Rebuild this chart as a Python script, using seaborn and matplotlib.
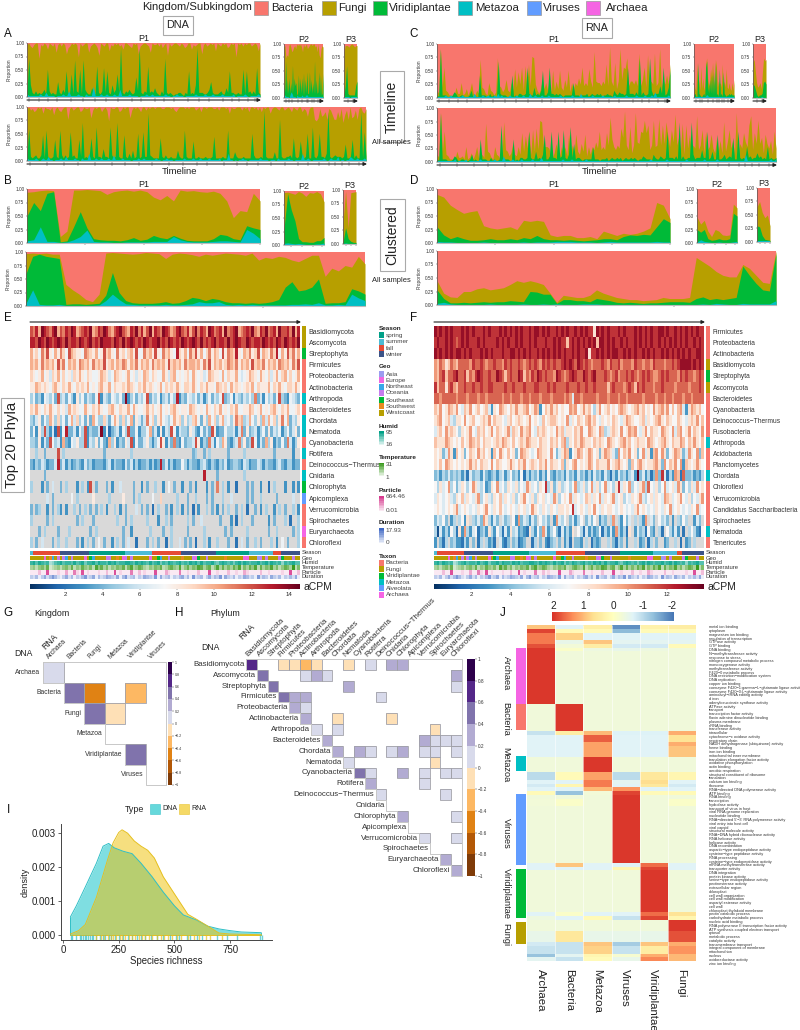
import numpy as np
import seaborn as sns
import matplotlib.pyplot as plt
from matplotlib.colors import ListedColormap, LinearSegmentedColormap
from matplotlib.patches import Rectangle, FancyArrowPatch

W, H = 800, 1030

# taxon colours and names
kingdoms = ['Bacteria', 'Fungi', 'Viridiplantae', 'Metazoa', 'Viruses', 'Archaea']
k_colors = ['#F8766D', '#B79F00', '#00BA38', '#00BFC4', '#619CFF', '#F564E3']

# timeline panels: one base 36 digit per sample, 0 is 0 and z is 1
# each is the upper edge of the metazoa, plant or fungi band
a1_meta = '2111111211311110111211411112110211171112112111211511112111101112112111111211011211101111121111211121111211111201111210111121'
a1_plant = '3p8324232352i42322a3253h32f2o43i2o5322632k324j3h32835f3w32435323d4w3243k343632142p3232122332132h2328w3332235a3222342263h3322322i2h34242j32'
a1_fungi = 'yzxwyzzpyxzyvzyxztyzxzyswxzyzyqzxyzztxyzywrzyxzzuyxzyzxyvzzyxwzyzsxyzzyxtzyyzxzwyzrzxyzzyxzywxzzvyxyzzsyzxyzyzuzyxzyzwxzyzqzyzxzyzzxyzyuz'
a2_meta = '1211102431110211112111221111111111111111'
a2_plant = 'a4o3c3d3a3l4d8a23f3d3d2g2c3h33h4c3a3o3c34h2f23g'
a2_fungi = 'xyqsryzxuvxywzyzyzxuzxyzwxyzzyzzxyuzsqwyx'
a3_meta = '111110111111'
a3_plant = '28l3222228b'
a3_fungi = 'uyyyxyzzyxyy'
aa_meta = '2111121012113110111211311112110211151112112111211411112111101112112111111211011211101111121111211121111211111201115110101121101111112111101110211111211011115112101111112101211130110113211211121'
aa_plant = '4l3234224h2k3223e32k42423j3422e3p2324f32m3328332m423p322h3252723i23j33v432222f3242232227322k3222d22322232223g2222322k2226322232222i422232x32222622r3223342f323d423i22m324i3325w323433323b223e2422w2j3'
aa_fungi = 'yzxywxzyzvzyyxzuyzxwyzzryzxyzzwxzyyzsxzyzzwyzxqzyyzzwxzyzzsxzyzywzzxzyzzyzzzyyzzzyzxwyzzzyzyzzzxyzwzzyzzzyyzxzzzyzvzyyzzzxzyzwzzyzxzwzyzzvyzzyxzzxyzywzyxzzwyxtyzzrqsytuwryxurrwsypuxrzstxryzwvy'
c1_meta = '1111121121111112111111311112112111213121111211121112111311211121112111111211111121111311111121111121111112111111211111211112111214111111121'
c1_plant = '21w2221112431122111251211f2221131211o3222111f12133223k32272325i224k3323232122222a2221222312322323122322153243323k333242q24223q5233383k237i'
c1_fungi = '53w7k542212733a23625a3253p7632a5424q8746c54a5j7h9k5l7m8rq9536c6a5a4i5b6i75c7i4a5a8d9k8a8jb7ubaa8b9m8xb8n6bwckjq8bb9c8t8ck7s9b9t8aw7c9f9m'
c2_meta = '1111111111112211111111111111111111111111'
c2_plant = '2311n3211231ko83c3f2h2n231j231h32122323222'
c2_fungi = 'a65n6c5k6d58mqd8ajdnc8pk7b9a7m8b7j76a65a5c'
c3_meta = '000100011000'
c3_plant = '98521223ab9'
c3_fungi = 'npha78a6hqop'
ca_meta = '1111111111201111201111112111111121111411112111121111121111311111111111211112111111121111111111111111111111111111111111121111111121111111111211111111121111112111111111111111511111111111112112'
ca_plant = '21w2221112431122111251211f22211312112o322211f12133223k32272325i224k332k34l325n3c2332122222a222122231232232312322323212243222153224323k333242q242233q52333833k23722i22352343g22k3232a34233634232a23223'
ca_fungi = '53w7k54221273342a23625a3253p7632a5424q8746c54a5j7h9k5l7m8rqaaa9536c64a5a4i5b6i75c7i4a5a8d9k8a8jbtfa8b9mgxb8n6bwdckjrjo8brabsbocqhaldvbg7p5o9i6b9u8bl6k8ai96f7e6q7dl9e5w6c9jdaou8jcrcg6ic9e5k9'

# clustered panels, in percent
b1_meta = [4,6,30,3,3,1,2,6,12,24, 3,2,2,1,1,2,2,2,2,3, 3,3,12,6,3,2,2,2,3,4, 4,3,2,25,18,8]
b1_plant = [50,75,60,92,95,2,4,30,58,28, 8,6,5,5,4,6,10,5,7,14, 10,8,14,9,5,4,4,4,8,16, 14,8,6,32,28,25]
b1_fungi = [94,95,97,98,97,12,22,98,98,99, 98,97,90,95,97,98,96,98,95,85, 80,88,78,98,96,97,95,94,96,92, 78,47,60,58,92,78]
b2_meta = [3,4,3,2,3,2,1,1,1,2,2,4]
b2_plant = [30,95,65,45,12,6,6,5,5,8,8,14]
b2_fungi = [97,98,96,94,99,96,90,97,96,99,95,80]
b3_meta = [1,2,1,1,1,1]
b3_plant = [3,30,10,5,3,3]
b3_fungi = [40,98,30,95,96,97]
ba_meta = [5,30,3,2,2,3,1,1,1,1, 1,2,10,22,12,4,3,2,2,2, 2,3,2,2,3,4,8,6,6,8, 3,2,3,2,3,2,2,2,2,2, 3,3,4,3,6,2,2,3,2,22, 15,10]
ba_plant = [60,92,96,92,90,88,3,4,4,3, 4,5,20,62,25,10,6,5,5,5, 6,8,5,6,10,16,14,10,14,12, 8,6,6,5,6,5,6,8,12,35, 45,28,30,35,50,5,6,6,8,32, 28,22]
ba_fungi = [97,98,97,98,96,96,40,30,22,12, 8,22,98,99,98,97,96,97,99,98, 97,88,96,98,97,95,92,96,94,96, 98,97,96,94,98,85,90,88,92,90, 85,82,88,94,94,55,70,65,75,72, 92,78]
d1_meta = [3,2,2,1,1,1,1,2,1,1, 1,1,1,2,1,2,2,2,3,3, 3,2,2,2,1,2,3,2,2,2, 2,2,2,3,2,2]
d1_plant = [30,15,8,12,8,5,5,6,8,6, 6,8,6,10,8,14,8,6,6,5, 6,5,4,5,6,8,8,6,12,15, 14,16,15,30,45,38]
d1_fungi = [90,85,70,62,55,58,60,32,28,26, 28,30,25,42,40,42,40,15,12,14, 14,10,10,12,8,22,18,14,18,16, 18,22,28,75,70,45]
d2_meta = [2,6,3,2,1,1,2,1,1,1,2,3]
d2_plant = [25,20,25,8,5,6,8,6,6,8,55,50]
d2_fungi = [48,35,42,22,12,25,22,15,14,15,72,65]
d3_meta = [1,1,1,1,1,1]
d3_plant = [30,28,12,5,4,3]
d3_fungi = [65,75,55,45,50,30]
da_meta = [3,5,2,1,1,1,1,1,2,1, 1,1,1,2,1,1,2,1,2,1, 1,1,2,2,2,1,1,1,1,1, 1,1,1,1,1,1,1,1,1,1, 2,1,3,2,1,1,3,2,2,2, 2,8]
da_plant = [28,12,4,4,5,4,5,6,5,6, 6,8,7,6,25,24,20,20,3,10, 10,8,8,6,12,10,8,5,4,5, 4,3,4,4,5,6,6,6,5,12, 15,10,12,10,12,14,72,55,40,28, 26,95]
da_fungi = [45,22,15,14,25,25,30,32,28,30, 32,38,45,42,45,42,38,22,5,18, 16,14,14,18,28,22,18,14,12,10, 10,8,9,10,14,12,12,12,14,88, 80,72,62,55,52,52,75,68,55,42, 40,100]

# tick positions, as a share of the panel width
p1_ticks = [.01,.05,.09,.13,.19,.24,.29,.34,.39,.45,.49,.55,.59,.63,.69,.74,.78,.84,.88,.91,.95,.98]
p2_ticks = [.05,.14,.2,.35,.47,.58,.62,.71,.76,.86,.92]
p3_ticks = [.3,.7]
all_ticks = [.01,.06,.11,.15,.2,.25,.29,.33,.37,.42,.46,.5,.53,.58,.62,.65,.68,.72,.76,.8,.83,.86,.89,.91,.93,.95,.98]
cl1_ticks = [.25,.5,.75,1]
cl2_ticks = [.18,.45,.72,.95]
cl3_ticks = [.2,.6,1]
cla_ticks = [.35,.7]

# heatmap E, one hex digit per sample is aCPM, a dot is not detected
e_phyla = ['Basidiomycota', 'Ascomycota', 'Streptophyta', 'Firmicutes', 'Proteobacteria',
           'Actinobacteria', 'Arthropoda', 'Bacteroidetes', 'Chordata', 'Nematoda',
           'Cyanobacteria', 'Rotifera', 'Deinococcus\u2212Thermus', 'Cnidaria', 'Chlorophyta',
           'Apicomplexa', 'Verrucomicrobia', 'Spirochaetes', 'Euryarchaeota', 'Chloroflexi']
e_taxa = [1,1,2,0,0,0,3,0,3,3,0,3,0,3,2,4,0,0,5,0]
e_rows = [
    'cbdaedcbdeacbdcedabcdceabdcedbacdecbadcebdaceadcbedcabdecbdacebdcaedbcdaebcdeabcdcebadcebcdaeccdbeadcbd',
    'ddcedcedcdedcecddcedcdecdcedddcedcecdedcdcedcddecdcedcdcedcdedcecdcdecddcecdedccedcddcedcdcedcedcdceddc',
    'a897b9c87a8b97ca9887ba98a78c9a87b8979a8c77b9a8c87b9a87d98a7b9c8a79b8a97c8ba9d87a9b89c7a98b9d7a8c9b8a79ca8',
    'a9a8b9a9a8c9b7a9a8ba9a8b9a9c89a8a9ba8a9b8a9a8b9a9a8c9a9a8b9aa9a8b9c8a9a89ba9b8a9a8c9a9b8a9a8ba9a8b9ca9a8b',
    '9878a78698a7978698a8798778a9867a9878a78687a979877a869a787897a87867a9887a7988a7678a987a87968a79a7978a8679a8',
    '88a989879a8798a879898a7879a88a798898a98798a89878a79898a87998a8798a887a9897a8987898a79888a798a87998a8798a8',
    '5745376574c56475385746547c365476574e3574657c4657356475d3547657463574657c45736546575b46375647c5437654c6537',
    '98a8798a879786a89877a8798a8779a87988a7a8778a8978a7879a87887a98787a8798a78798a7788a978a7879a8798a77898a798',
    '5468475a8595747a6957484a7559647a85957a48646b7958a7657a8958569a7485a7958a6758b9a56a7585a6a7958b7a4658a7695',
    '47385c5362c37d446375c35446e372456375c4473557a4638365c73655486437464c8344755636b4845635748465735746843c5647',
    '5548364c7563a4376855c36584743a5835486c3744685357c8364b4374556c8354b6375a84356b5845c7364a5835474b6358547c6',
    '..5..4....c.5..............4.........5......................45..4.5......4.....5..........4......3.......4',
    '4354653446d4635345436453444356354436463534453534d46353447535443564354354634554365344653544356435534465544',
    '.....4..........................................................d....4.........5.....................4...',
    '5...3.4.6..4.5...3.5.3c.4...4.3..6....4..3.4..5..3.7.4..3..4.3...3.4.b.5.3..2...4.4..3..2.5...3..3.3.4..4.',
    '......6.4......7.5.....8.....5....8...4.5....7..9.....5...4..5...4.4...5..6.....4.4..5.....4.....6.....5.',
    '4.45..3.4.53.3..5.4.5.4.4.5.3..5.3.4...6.4.4.2.5..4.3.5.3.4.2.3..5.4.3.4.5..4.5.2..4.3.5..3.5.4..5.3.2..4',
    '5.....4.5........4.5...4........5..4.5.....5...3..5.4.....5.4..6......4...3.2.5...4.....3.4...5.2..5.....4',
    '...4.5....4...5.......4.5.........4..3......5....4..5.....4.....5.......4.4.....5.......4..5.....4.5.....3',
    '5.4.6...4.5..5...4.3.5.4.7.4..3.5.4.6..2...4.5.4..2.5..6.4.4.2..5.3..5...4..2.6.4..5.4...5.3.7.4...5.2...5',
]

# heatmap F
f_phyla = ['Firmicutes', 'Proteobacteria', 'Actinobacteria', 'Basidiomycota', 'Streptophyta',
           'Ascomycota', 'Bacteroidetes', 'Cyanobacteria', 'Deinococcus\u2212Thermus', 'Fusobacteria',
           'Arthropoda', 'Acidobacteria', 'Planctomycetes', 'Chordata', 'Chloroflexi',
           'Verrucomicrobia', 'Candidatus Saccharibacteria', 'Spirochaetes', 'Nematoda', 'Tenericutes']
f_taxa = [0,0,0,1,2,1,0,0,0,0,3,0,0,3,0,0,0,0,3,0]
f_rows = [
    'dcdcdcdcccdcdcdcccdcdcccdcdcdcdcdccdcddcdcdccdcdcdccdcdcdcc8dcdcdcccdcdcccdcdcdcdccddcdccdcdcdcdcdcccd',
    'cdccdcdcbcdcdcccdcdccccdcdcdccdcdccdcdcccdccdcdcc9cdcdcdcdcd9ddcdcdccdcdccdcdcdcdccdcdcdcdcdcdccdcdcccd',
    'dcdcdcdcddcdcdcccdcdcdcccdccddcdcdcdccdcdcdcdcdcdccdcdccd8ccdcdcdcddccdcdcdccdcdcdccdcdcdcdcdcdccddcdcd',
    'a9ba89ba9bbbbacbbcbabbcbbacbcbbcbabcbcbacbcbcbbcdcdcbdcbcbabbbcbacbbcabbbacbbabbacbbbabbcbcddddcdcdcbab',
    'a9bc9bbcdbbc9bacdcbbcbbdcb9bcbbdc9bacbdcbcbbadcbabcdcbbdcbcdbbbcbabcabbcbcbabcbcbaabcbcbbbacbcbbabcbcbb',
    'c9bb8bca9bbcbbcbbcbbccbbbbcbbcbbbcbbbccbbbcbcbbbbcbbbcbbcbbcbbbb9bcbbbabcb9cbcbbbabbcbbbbabbbbabbbcbbab',
    'bbabbbbbabbbabbbabbabbbbbabbabbbabbabbbabbbabbbbaba6bbabbbbbabbbabbbabbabbbbbabbbbabbabbabbbabbabbbbabb',
    '98a78a98a7698a7897896387a98798a889a78a93798a897877a9a78a89758a7897879a98789a89787a89a8a7979a638a9897a8a',
    '89a78965887a78977898a79887689789878a7876978998787a6879879a8976878798768a98778968789a8798779876898a79789',
    '6897a89875878a7698978a79878a6987a89a769898787a89688798a77a987a9568987a78a9a768a79887a987a69a78a7987a988',
    '9888a98787978a98979887898a98797898a9887988798979a58798a988798987a98789a89789887a98789a87988a9798a87978',
    '87846a8397847987a8978397a8797847a98767a9887a7468a9378a978a97848a9864a798a7847a6839a7a8478a9846a87a4987',
    '8797a98787878a8979887a798778a8798a7898798a7988794879a7878a979888a789a8784979a87889a84a798a7a39878a8787',
    '453546454535264553643453563574537253546353743545364536453536453642536453563e463524a4c6253a92b44534355',
    '75867a57468757a86573487a6758768576a867587c5846856757a56857a6857a6758c687a5768a5b76857a6786a847586a7857',
    '6876786587968768a5786587968768578a7685878676a85787a6876798687a6878a678576878a65786876a98678a7685768a66',
    '78767878a6787676878a7687976787687867a87687687688787c6787687a768788767876768a78767687687a678767687a678',
    '46574.35.5738.5464a85364.645.73a465364.7564.3a657.46357.4647.354.5a.53746.5.53a.64.7564.3.5475..364.6475',
    '51635375283a5367245385375263856343285374a63574263538.75263534725363a53528.36452743.52.75363.2.5753274',
    '3.425.4533253.4.25.5342.6324.45234..25.4.3245.4.352.443.5.2434..5.4254.3..5.34.25.4..34..5.2.34.5...52',
]

# annotation strips, shared by E and F
season_names = ['spring', 'summer', 'fall', 'winter']
season_colors = ['#00A087', '#4DBBD5', '#E64B35', '#3C5488']
season_runs = [1, 2, 3, 0, 1, 2, 3, 0, 1, 2, 3]
season_e_len = [1, 10, 11, 13, 10, 11, 13, 12, 9, 3, 7]
season_f_len = [1, 10, 11, 13, 10, 11, 13, 12, 9, 2, 8]
geo_names = ['Asia', 'Europe', 'Northeast', 'Oceania', 'Southeast', 'Southwest', 'Westcoast']
geo_colors = ['#9C9CF0', '#F067E0', '#38A8E8', '#C77CEE', '#00BA38', '#E88A20', '#B79F00']
geo_row = '6666616526363263666616426666336656136366666616642663666656663146636666665666666116660363666634666366666'
humid_row = '7868767346786776867857786877687867788768787686785768767867687868677865787675786876778678687674767866786'
temp_row = '4535647234535647354754638574635465736845764354657346754835746587467358474647583647583746584635764936584'
part_row = '1113118111211411621812111211311812111611312111811142111611211131118112111311211421111311211112118113111'
dura_row = '3241352464213524132462351423543251462341325432615234132452416234135243615324132542316243153241324251342'
strip_cmaps = ['#00A087', '#3A9A1E', '#D63A8E', '#3D66C4']
strip_names = ['Season', 'Geo', 'Humid', 'Temperature', 'Particle', 'Duration']
taxon_names = ['Bacteria', 'Fungi', 'Viridiplantae', 'Metazoa', 'Alveolata', 'Archaea']

# correlation G
g_names = ['Archaea', 'Bacteria', 'Fungi', 'Metazoa', 'Viridiplantae', 'Viruses']
g_r = [0, 1, 1, 1, 2, 2, 4]
g_c = [0, 1, 2, 4, 2, 3, 4]
g_v = [0.1, 0.5, -0.5, -0.3, 0.5, -0.1, 0.5]

# correlation H
h_names = e_phyla
h_r = [0,0,0,0,0,0,0,0,0, 1,1,1,1,1, 2,2,2, 3,3,3,3, 4,4, 5,5,5, 6,6,6, 7,7,7,7,7,
       8,8,8,8,8,8,8,8, 9,9, 10,10,10,10,10,10, 11,11, 12,12, 14,14, 16,16, 18, 19]
h_c = [0,3,4,5,6,9,11,13,14, 1,5,6,7,19, 2,9,19, 3,4,5,12, 4,5, 5,8,13, 6,8,17, 7,16,17,18,19,
       8,10,11,13,14,16,17,19, 9,17, 10,11,14,16,18,19, 11,16, 12,18, 14,19, 16,19, 18, 19]
h_v = [.7,-.1,-.1,-.3,-.1,-.1,.1,.3,.3, .5,.1,.3,.1,.3, .5,.3,.1, .5,.3,.3,.1, .3,.1, .3,-.1,-.1, .1,.1,-.1, .3,.3,.1,.1,.1,
       .3,.3,.1,.1,.3,.1,.1,.1, .1,-.1, .5,.1,.3,.1,.1,.1, .3,.1, .1,.1, .3,.1, .1,.1, .3, .3]
corr_colors = ['#7F3B08', '#B35806', '#E08214', '#FDB863', '#FEE0B6',
               '#D8DAEB', '#B2ABD2', '#8073AC', '#542788', '#2D004B']
corr_ticks = [-1, -.8, -.6, -.4, -.2, 0, .2, .4, .6, .8, 1]
corr_labels = ['\u22121', '\u22120.8', '\u22120.6', '\u22120.4', '\u22120.2', '0', '0.2', '0.4', '0.6', '0.8', '1']

# density I
dna_x = [33,60,100,125,150,180,205,230,270,310,350,400,450,500,540,600,650,700,750,800,890]
dna_y = [.00052,.00085,.0014,.00175,.0021,.0026,.00268,.00255,.00245,.00238,.0021,.0017,.00125,.00085,.00058,.00043,.00025,.00017,.00012,.00008,.00006]
rna_x = [33,70,100,150,200,225,250,265,290,320,350,380,410,450,500,530,560,600,650,700,750,890]
rna_y = [.00002,.00012,.0003,.0011,.0022,.0027,.003,.00308,.00298,.00275,.0026,.00248,.00225,.0017,.0012,.0009,.0006,.00045,.00025,.00005,.00002,0]
dna_rug = [35,42,60,75,82,90,97,105,112,120,128,135,150,165,180,190,205,215,235,250,270,290,310,330,350,370,395,420,450,480,505,520,555,570,600,625,690,735,780,885,895]
rna_rug = [150,170,185,200,215,225,240,255,265,280,295,310,325,340,355,370,385,400,420,440,455,470,490,510,530,560,590,610,640,660,715]

# function heatmap J, columns in j_cols order
j_cols = ['Archaea', 'Bacteria', 'Metazoa', 'Viruses', 'Viridiplantae', 'Fungi']
j_terms = ['metal ion binding', 'cytoplasm', 'magnesium ion binding', 'regulation of transcription',
           'GTPase activity', 'GTP binding', 'DNA binding', 'N\u2212methyltransferase activity',
           'response to stress', 'nitrogen compound metabolic process', 'monooxygenase activity',
           'methyltransferase activity', 'F420\u22120 metabolic process',
           'DNA restriction\u2212modification system', 'DNA replication', 'copper ion binding',
           'coenzyme F420\u22121:gamma\u2212L\u2212glutamate ligase activity',
           'coenzyme F420\u22120:L\u2212glutamate ligase activity', 'aminoacyl\u2212tRNA editing activity',
           'd iron', 'adenylosuccinate synthase activity', 'ATPase activity', 'transport',
           'transcription factor activity', 'flavin adenine dinucleotide binding', 'plasma membrane',
           'rRNA binding', 'transferase activity', 'intracellular', 'cytochrome\u2212c oxidase activity',
           'respiratory chain', 'NADH dehydrogenase (ubiquinone) activity', 'heme binding',
           'iron ion binding', 'mitochondrial inner membrane', 'translation elongation factor activity',
           'oxidative phosphorylation', 'actin binding', 'aerobic respiration',
           'structural constituent of ribosome', 'translation', 'calcium ion binding', 'ribosome',
           'RNA\u2212directed DNA polymerase activity', 'ATP binding', 'RNA binding', 'transcription',
           'hydrolase activity', 'transport of virus in host', 'viral RNA genome replication',
           'nucleotide binding', "RNA\u2212directed 5'\u22123' RNA polymerase activity",
           'viral entry into host cell', 'viral capsid', 'structural molecule activity',
           'RNA\u2212DNA hybrid ribonuclease activity', 'RNA helicase activity', 'helicase activity',
           'DNA recombination', 'aspartic\u2212type endopeptidase activity',
           'cysteine\u2212type peptidase activity', 'RNA processing',
           'cysteine\u2212type endopeptidase activity', 'mRNA methyltransferase activity',
           'transporter activity', 'DNA integration', 'protein kinase activity',
           'serine\u2212type endopeptidase activity', 'pectinesterase activity', 'extracellular region',
           'chloroplast', 'cell wall organization', 'cell wall modification', 'aspartyl esterase activity',
           'cell wall', 'chloroplast thylakoid membrane', 'pectin catabolic process',
           'carbohydrate metabolic process', 'nucleic acid binding',
           'RNA polymerase II transcription factor activity', 'ATP synthesis coupled electron transport',
           'cytosol', 'metabolic process', 'catalytic activity', 'transmembrane transport',
           'integral component of membrane', 'mitochondrion', 'nucleus', 'oxidoreductase activity',
           'zinc ion binding']
p, q = -.33, -.67
j_arc = [2, p, p, p, p, p]
j_bac = [p, 2, p, p, p, p]
j_met = [p, p, 2, p, p, p]
j_vir = [p, p, p, 2, p, p]
j_pla = [p, p, p, p, 2, p]
j_fun = [p, p, p, p, p, 2]
j_values = [
    [.9, q, .35, -1.8, .3, .4], [1.9, .1, .1, -1.4, .1, .1], [1.5, .8, q, q, q, q], [1.5, .8, q, q, q, q],
    [1.5, -.5, .9, -.6, -.6, -.6], [1.8, -.3, .4, -.8, -.8, .1], [2, -.1, -.4, -.5, -.4, p],
    j_arc, j_arc, j_arc, j_arc, j_arc, j_arc, j_arc, j_arc, j_arc, j_arc, j_arc, j_arc, j_arc, j_arc,
    j_bac, j_bac, j_bac, j_bac, j_bac, j_bac, j_bac,
    [-.9, .4, 1.0, -.7, -.7, 1.1], [q, q, 1.7, q, q, .6], [q, q, 1.7, q, q, .6], [q, q, 1.2, q, q, 1.1],
    [q, q, 1.2, q, q, .9], [q, q, 1.2, q, q, .9], [q, q, 1.2, q, q, .9],
    j_met, j_met, j_met, j_met,
    [-1, .1, 1.2, -1, .5, .2], [-1, .1, 1.2, -1, .5, .2], [q, q, 1.5, -.6, .7, q], [-.8, .2, 1.5, q, .5, -.8],
    [q, q, 1.0, 1.3, q, q], [.1, -1.3, -.3, 1.9, .1, .1],
    j_vir, [-.3, -.1, p, 2, p, -.1], [-.3, -.1, p, 2, p, -.1], j_vir, j_vir, j_vir, j_vir, j_vir, j_vir, j_vir,
    j_vir, j_vir, j_vir, j_vir, j_vir, j_vir, j_vir, j_vir,
    [q, .9, q, q, 1.6, q], [q, q, q, .2, 1.9, q],
    j_pla, j_pla, j_pla, j_pla, j_pla, j_pla, j_pla, j_pla, j_pla, j_pla, j_pla,
    [q, -.1, q, q, 1.6, .6], [-.4, q, .1, -.9, 1.9, .2],
    j_fun, j_fun, j_fun,
    [-.5, .5, -.5, -.5, -.5, 1.8], [-.5, .5, -.5, -.5, -.5, 1.8], [-.5, .5, -.5, -.5, -.5, 1.8],
    [-.8, -.9, .9, -1.2, .9, 1.1], [-.9, -.9, .8, -.9, .4, 1.3], [-.9, -.9, .8, -.9, .4, 1.3],
    [-1.3, -.6, .2, -.2, 1.1, 1.0], [-.6, -.9, .1, -.5, 1.4, 1.0],
]
j_side_taxa = [5, 0, 3, 4, 2, 1]
j_side_first = [6, 21, 35, 45, 65, 79]
j_side_count = [15, 7, 4, 19, 13, 6]
j_side_labels = ['Archaea', 'Bacteria', 'Metazoa', 'Viruses', 'Viridiplantae', 'Fungi']


def box(l, t, r, b):
    return fig.add_axes([l / W, 1 - b / H, (r - l) / W, (b - t) / H])


def put(x, y, s, **kw):
    kw.setdefault('va', 'center')
    fig.text(x / W, 1 - y / H, s, **kw)


def rect(l, t, r, b, **kw):
    fig.add_artist(Rectangle((l / W, 1 - b / H), (r - l) / W, (b - t) / H,
                             transform=fig.transFigure, **kw))


def arrow(x0, x1, y):
    fig.add_artist(FancyArrowPatch((x0 / W, 1 - y / H), (x1 / W, 1 - y / H),
                                   transform=fig.transFigure, arrowstyle='-|>',
                                   mutation_scale=5, lw=0.8, color='#222222',
                                   shrinkA=0, shrinkB=0))


def share(series):
    ''' Series come as a base 36 string or as a percent list '''
    if isinstance(series, str):
        return np.array([int(c, 36) / 35 for c in series])
    return np.array(series) / 100


def area(px, meta, plant, fungi, ticks, title=None, timeline=True, ylabel=True):
    ''' One stacked proportion panel, bands painted from the top one down '''
    ax = box(*px)
    ax.fill_between([0, 1], 0, 1, color=k_colors[0], lw=0)
    for series, col in zip((fungi, plant, meta), (k_colors[1], k_colors[2], k_colors[3])):
        y = share(series)
        ax.fill_between(np.linspace(0, 1, len(y)), 0, y, color=col, lw=0)
    ax.set_xlim(0, 1)
    ax.set_ylim(0, 1)
    ax.set_yticks([0, .25, .5, .75, 1])
    ax.set_yticklabels(['0.00', '0.25', '0.50', '0.75', '1.00'])
    ax.tick_params(axis='y', labelsize=3.4, length=1, width=.3, pad=1, colors='#333333')
    ax.set_xticks(ticks)
    ax.set_xticklabels([])
    ax.tick_params(axis='x', length=3.6 if timeline else 1.5, width=.3, color='#333333')
    if ylabel:
        ax.set_ylabel('Proportion', fontsize=3.4, labelpad=2.2, color='#333333')
    sns.despine(ax=ax)
    ax.spines['left'].set_linewidth(.5)
    ax.spines['left'].set_color('#555555')
    ax.spines['bottom'].set_linewidth(.8)
    ax.spines['bottom'].set_color('#bbbbbb')
    if title:
        ax.set_title(title, fontsize=6.5, pad=1.5, color='#222222')
    if timeline:
        arrow(px[0], px[2] + 1, px[3] + 3)
    return ax


def strip(px, data, cmap, vmin=None, vmax=None):
    ax = box(*px)
    sns.heatmap(data, ax=ax, cmap=cmap, vmin=vmin, vmax=vmax, cbar=False,
                xticklabels=False, yticklabels=False)
    return ax


def digits(row, n):
    return [int(c, 16) for c in row[:n].ljust(n, '0')]


def top20(x0, rows, phyla, taxa, vmax, season_len, cbar_ticks, label_fs):
    ''' Heatmap with its side bar, annotation strips and colour bar '''
    n = 100
    x1 = x0 + 270
    matrix = [[np.nan if c == '.' else int(c, 16) for c in r[:n].ljust(n, '.')] for r in rows]
    ax = box(x0, 326, x1, 548)
    cax = box(x0, 584, x1, 589)
    ax.set_facecolor('#D9D9D9')
    sns.heatmap(matrix, ax=ax, cmap='RdBu_r', vmin=.1, vmax=vmax, xticklabels=False,
                yticklabels=False, cbar_ax=cax, cbar_kws={'orientation': 'horizontal'})
    cax.set_xticks(cbar_ticks)
    cax.tick_params(axis='x', labelsize=4.4, length=1, width=.3, pad=1.5, color='#333333')
    put(x1 + 4, 586.5, 'aCPM', fontsize=7.5, color='#222222')
    side = box(x1 + 2, 326, x1 + 6, 548)
    sns.heatmap([[t] for t in taxa], ax=side, cmap=ListedColormap(k_colors), vmin=-.5, vmax=5.5,
                cbar=False, xticklabels=False, yticklabels=phyla)
    side.yaxis.tick_right()
    side.tick_params(axis='y', labelsize=label_fs, length=0, pad=2.0, labelrotation=0, colors='#333333')
    arrow(x0, x1 + 1, 322)
    season = np.repeat(season_runs, season_len)
    strip((x0, 551, x1, 555), [season], ListedColormap(season_colors), -.5, 3.5)
    strip((x0, 555.5, x1, 560), [digits(geo_row, n)], ListedColormap(geo_colors), -.5, 6.5)
    bands = [(560.5, 564.5, humid_row), (565, 569.5, temp_row), (570, 574.5, part_row), (575, 578.5, dura_row)]
    for (t, b, row), col in zip(bands, strip_cmaps):
        cm = LinearSegmentedColormap.from_list('s', ['#FFFFFF', col])
        strip((x0, t, x1, b), [digits(row, n)], cm, 0, 9)
    for name, y in zip(strip_names, [553, 558, 562.5, 567.5, 572.5, 577]):
        put(x1 + 2, y, name, fontsize=4.2, color='#333333')


def cat_legend(title, y_title, names, colors, ys):
    put(379, y_title, title, fontsize=4.6, fontweight='bold', color='#222222')
    for name, col, y in zip(names, colors, ys):
        rect(379, y - 3, 384, y + 3, fc=col, ec='none')
        put(385.5, y, name, fontsize=4.6, color='#444444')


def grad_legend(title, y_title, col, t, b, hi, lo, y_hi, y_lo):
    put(379, y_title, title, fontsize=4.6, fontweight='bold', color='#222222')
    cm = LinearSegmentedColormap.from_list('g', ['#FFFFFF', col])
    strip((379, t, 384, b), [[v] for v in [9, 8, 7, 6, 5, 4, 3, 2, 1, 0]], cm, 0, 9)
    put(385.5, y_hi, hi, fontsize=4.6, color='#444444')
    put(385.5, y_lo, lo, fontsize=4.6, color='#444444')


def corr(px, cbar_px, names, rows, cols, vals, fs, tick_fs):
    ''' Upper triangular correlation grid '''
    n = len(names)
    m = np.full((n, n), np.nan)
    m[rows, cols] = vals
    ax = box(*px)
    cax = box(*cbar_px)
    sns.heatmap(m, ax=ax, cmap=ListedColormap(corr_colors), vmin=-1, vmax=1,
                xticklabels=False, yticklabels=False, cbar_ax=cax)
    for r, c in zip(rows, cols):
        ax.add_patch(Rectangle((c, r), 1, 1, fc='none', ec='#A0A0A8', lw=.6))
    cax.set_yticks(corr_ticks)
    cax.set_yticklabels(corr_labels)
    cax.tick_params(labelsize=tick_fs, length=1.2, width=.3, pad=1, colors='#333333')
    steps = np.arange(n + 1)
    ax.plot(np.repeat(steps, 2)[:-1], np.repeat(steps, 2)[1:], color='#C8C8C8', lw=.7, clip_on=False)
    ax.plot([0, n, n], [0, 0, n], color='#C8C8C8', lw=.7, clip_on=False)
    for i, name in enumerate(names):
        ax.text(i - .12, i + .5, name, ha='right', va='center', fontsize=fs, color='#333333')
        ax.text(i + .35, -.08, name, rotation=45, rotation_mode='anchor', ha='left', va='bottom',
                fontsize=fs, color='#333333')


sns.set_theme(style='ticks')
plt.rcParams['font.family'] = ['Liberation Sans', 'DejaVu Sans']
fig = plt.figure(figsize=(W / 100, H / 100), dpi=100)

# top legend
put(142, 7.5, 'Kingdom/Subkingdom', fontsize=8.1, color='#222222')
legend_sw = [254, 322, 373, 458, 527, 586]
legend_tx = [271, 338, 389, 475, 543, 606]
for name, col, sx, tx in zip(kingdoms, k_colors, legend_sw, legend_tx):
    rect(sx, 1, sx + 14, 15, fc=col, ec='#999999', lw=.5)
    put(tx, 8, name, fontsize=8.2, color='#222222')

# boxes around labels
for l, t, r, b, s, rot, fs in [(163, 16, 193, 35, 'DNA', 0, 7.8), (582, 18, 612, 38, 'RNA', 0, 7.8),
                               (380, 71, 404, 142, 'Timeline', 90, 10),
                               (380, 199, 405, 271, 'Clustered', 90, 10),
                               (1, 398, 24, 492, 'Top 20 Phyla', 90, 10.7)]:
    rect(l, t, r, b, fc='white', ec='#AAAAAA', lw=.8)
    put((l + r) / 2, (t + b) / 2, s, fontsize=fs, rotation=rot, ha='center', color='#222222')

for x, y, s in [(8, 34, 'A'), (8, 181, 'B'), (414, 34, 'C'), (414, 181, 'D'), (8, 318, 'E'), (414, 318, 'F'),
                (8, 613, 'G'), (179, 613, 'H'), (8, 810, 'I'), (503, 613, 'J')]:
    put(x, y, s, fontsize=8.4, ha='center', color='#111111')
for y in [142, 280]:
    put(372, y, 'All samples', fontsize=5.4, color='#222222')
for x in [180, 599]:
    put(x, 171.5, 'Timeline', fontsize=6.8, ha='center', color='#222222')

area((27, 43, 260, 97), a1_meta, a1_plant, a1_fungi, p1_ticks, 'P1')
area((284, 44, 323, 98), a2_meta, a2_plant, a2_fungi, p2_ticks, 'P2', ylabel=False)
area((344, 44, 357, 98), a3_meta, a3_plant, a3_fungi, p3_ticks, 'P3', ylabel=False)
area((27, 107, 366, 161), aa_meta, aa_plant, aa_fungi, all_ticks)
area((27, 189, 260, 243), b1_meta, b1_plant, b1_fungi, cl1_ticks, 'P1', False)
area((284, 191, 324, 245), b2_meta, b2_plant, b2_fungi, cl2_ticks, 'P2', False, False)
area((343, 190, 356, 244), b3_meta, b3_plant, b3_fungi, cl3_ticks, 'P3', False, False)
area((26, 252, 365, 306), ba_meta, ba_plant, ba_fungi, cla_ticks, None, False)
area((437, 44, 670, 98), c1_meta, c1_plant, c1_fungi, p1_ticks, 'P1')
area((694, 44, 734, 98), c2_meta, c2_plant, c2_fungi, p2_ticks, 'P2', ylabel=False)
area((753, 44, 766, 98), c3_meta, c3_plant, c3_fungi, p3_ticks, 'P3', ylabel=False)
area((437, 108, 776, 162), ca_meta, ca_plant, ca_fungi, all_ticks)
area((437, 189, 670, 243), d1_meta, d1_plant, d1_fungi, cl1_ticks, 'P1', False)
area((697, 189, 737, 243), d2_meta, d2_plant, d2_fungi, cl2_ticks, 'P2', False, False)
area((757, 188, 770, 242), d3_meta, d3_plant, d3_fungi, cl3_ticks, 'P3', False, False)
area((437, 251, 776, 305), da_meta, da_plant, da_fungi, cla_ticks, None, False)

top20(30, e_rows, e_phyla, e_taxa, 14.6, season_e_len, [2, 4, 6, 8, 10, 12, 14], 5)
top20(434, f_rows, f_phyla, f_taxa, 13.9, season_f_len, [2, 4, 6, 8, 10, 12], 4.8)

cat_legend('Season', 328, season_names, season_colors, [335, 342, 348, 354])
cat_legend('Geo', 367, geo_names, geo_colors, [374, 380, 387, 393, 400, 406, 413])
grad_legend('Humid', 426, strip_cmaps[0], 431, 447, '95', '16', 432, 445)
grad_legend('Temperature', 458, strip_cmaps[1], 463, 478, '31', '1', 465, 478)
grad_legend('Particle', 491, strip_cmaps[2], 496, 513, '664.46', '0.01', 497, 510)
grad_legend('Duration', 523, strip_cmaps[3], 528, 545, '17.93', '0', 530, 543)
cat_legend('Taxon', 556, taxon_names, k_colors, [563, 569, 576, 582, 588, 595])

# correlation panels
put(34, 613, 'Kingdom', fontsize=6.4, color='#222222')
put(14, 654, 'DNA', fontsize=6.2, color='#222222')
put(50, 642, 'RNA', fontsize=6.2, rotation=45, ha='center', color='#222222')
corr((43, 662, 166, 785), (168, 662, 172, 785), g_names, g_r, g_c, g_v, 4.9, 2.6)
put(210, 613, 'Phylum', fontsize=6.4, color='#222222')
put(201, 647, 'DNA', fontsize=6.2, color='#222222')
put(247, 632, 'RNA', fontsize=6.2, rotation=45, ha='center', color='#222222')
corr((246, 659, 462, 876), (467, 659, 475, 876), h_names, h_r, h_c, h_v, 5.7, 3.4)

# density panel
ax_i = box(61, 824, 272, 940)
ax_i.fill_between(dna_x, 0, dna_y, color='#00BFC4', alpha=.5, lw=0)
ax_i.fill_between(rna_x, 0, rna_y, color='#EFC000', alpha=.5, lw=0)
ax_i.plot([dna_x[0], dna_x[0]], [0, dna_y[0]], color='#2FBFC6', lw=.7)
ax_i.plot([dna_x[-1], dna_x[-1]], [0, dna_y[-1]], color='#2FBFC6', lw=.7)
ax_i.plot([dna_x[0], dna_x[-1]], [0, 0], color='#E5C020', lw=.7)
sns.lineplot(x=dna_x, y=dna_y, ax=ax_i, color='#2FBFC6', lw=.7, estimator=None)
sns.lineplot(x=rna_x, y=rna_y, ax=ax_i, color='#E5C020', lw=.7, estimator=None)
sns.rugplot(x=dna_rug, ax=ax_i, color='#2FBFC6', height=.04, lw=.4, alpha=.7)
sns.rugplot(x=rna_rug, ax=ax_i, color='#E5C020', height=.04, lw=.4, alpha=.7)
ax_i.set_xlim(-9, 938)
ax_i.set_ylim(-.000155, .00325)
ax_i.set_xticks([0, 250, 500, 750])
ax_i.set_yticks([0, .001, .002, .003])
ax_i.set_yticklabels(['0.000', '0.001', '0.002', '0.003'])
ax_i.tick_params(labelsize=7, length=2, width=.5, pad=1.5, colors='#222222')
ax_i.set_xlabel('Species richness', fontsize=6.9, labelpad=1, color='#222222')
ax_i.set_ylabel('density', fontsize=6.6, labelpad=2, color='#222222')
sns.despine(ax=ax_i)
for s in ['left', 'bottom']:
    ax_i.spines[s].set_linewidth(.7)
    ax_i.spines[s].set_color('#444444')
put(125, 809, 'Type', fontsize=6.4, color='#222222')
rect(150, 804, 160, 814, fc='#00BFC4', ec='#2FBFC6', lw=.6, alpha=.6)
put(162, 809, 'DNA', fontsize=5, color='#222222')
rect(179, 804, 189, 814, fc='#EFC000', ec='#E5C020', lw=.6, alpha=.6)
put(191, 809, 'RNA', fontsize=5, color='#222222')

# function heatmap
j_cmap = LinearSegmentedColormap.from_list(
    'j', ['#4575B4', '#91BFDB', '#E0F3F8', '#FFFFBF', '#FEE090', '#FC8D59', '#D73027'])
ax_j = box(527, 625, 696, 963)
cax_j = box(552, 612, 674, 621)
sns.heatmap(j_values, ax=ax_j, cmap=j_cmap, vmin=-2.05, vmax=2.05, xticklabels=False,
            yticklabels=j_terms, cbar_ax=cax_j, cbar_kws={'orientation': 'horizontal'})
ax_j.yaxis.tick_right()
ax_j.tick_params(axis='y', labelsize=2.8, length=0, pad=9.2, labelrotation=0, colors='#333333')
ax_j.vlines(np.arange(1, 6), 0, len(j_terms), color='white', lw=.4)
cax_j.invert_xaxis()
cax_j.xaxis.tick_top()
cax_j.set_xticks([2, 1, 0, -1, -2])
cax_j.set_xticklabels(['2', '1', '0', '-1', '-2'])
cax_j.tick_params(axis='x', labelsize=7.2, length=0, pad=.5, colors='#222222')
side_j = np.full((len(j_terms), 1), np.nan)
for t, first, cnt in zip(j_side_taxa, j_side_first, j_side_count):
    side_j[first:first + cnt] = t
strip((516, 625, 526, 963), side_j, ListedColormap(k_colors), -.5, 5.5)
side_y = [673, 719, 765, 833, 894, 935]
for name, y in zip(j_side_labels, side_y):
    put(506, y, name, fontsize=6.6, rotation=270, ha='center', color='#222222')
for i, name in enumerate(j_cols):
    put(541 + i * 28.1, 969, name, fontsize=8.2, rotation=270, ha='center', va='top', color='#222222')

fig.savefig('out.png', dpi=100)
